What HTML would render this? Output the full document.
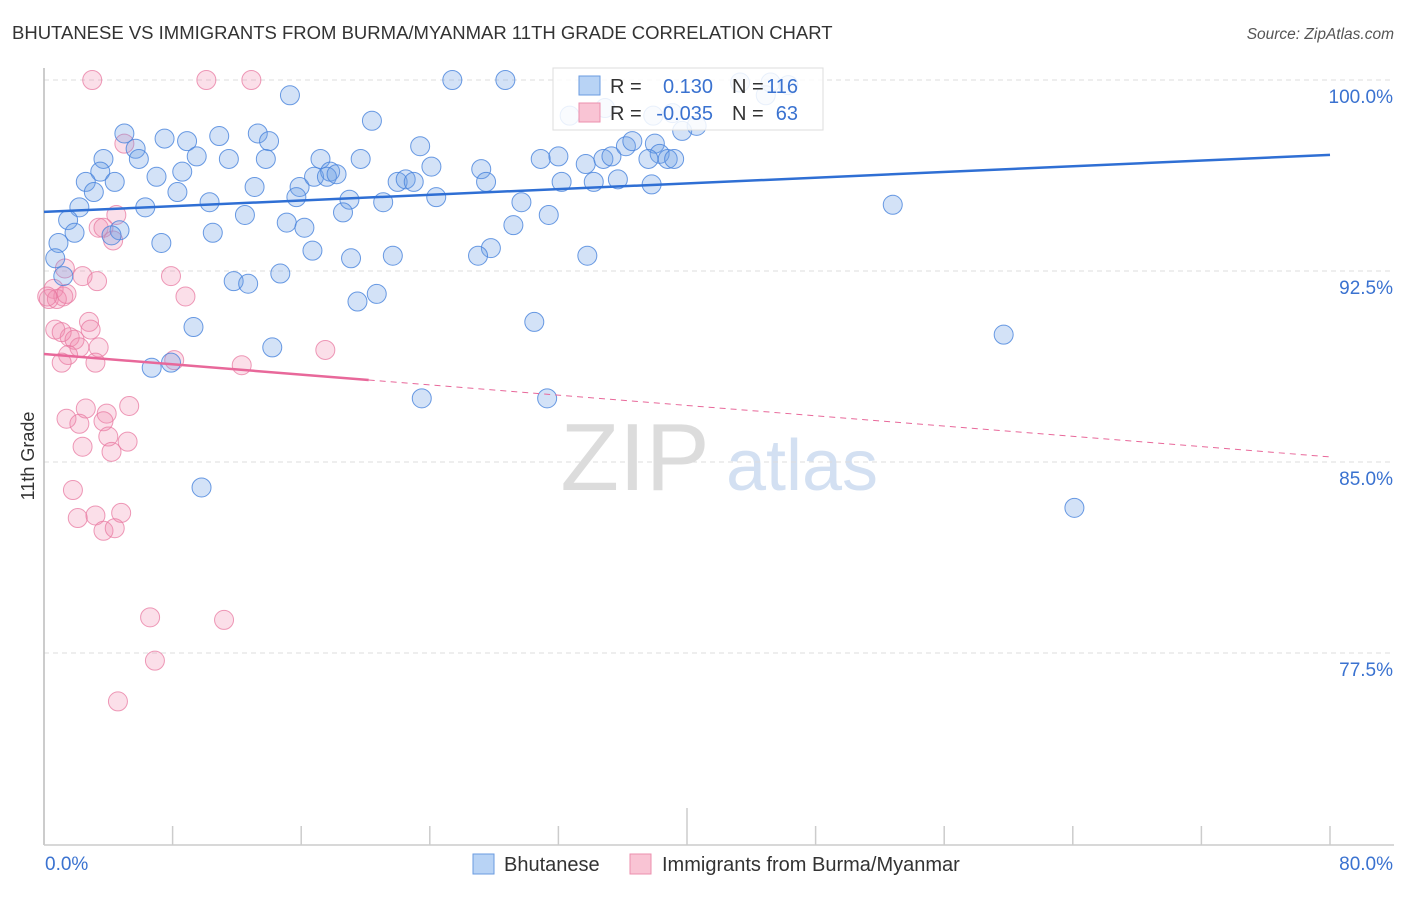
<!DOCTYPE html>
<html><head><meta charset="utf-8">
<style>
body{margin:0;background:#fff;font-family:"Liberation Sans",sans-serif;}
svg text{font-family:"Liberation Sans",sans-serif;}
</style></head>
<body>
<svg id="chart" width="1406" height="892" viewBox="0 0 1406 892">
<text x="12" y="39" font-size="18.5" fill="#333">BHUTANESE VS IMMIGRANTS FROM BURMA/MYANMAR 11TH GRADE CORRELATION CHART</text>
<text x="1394" y="39" font-size="15.5" fill="#555" font-style="italic" text-anchor="end">Source: ZipAtlas.com</text>
<text x="34" y="456" font-size="18" fill="#333" text-anchor="middle" transform="rotate(-90 34 456)">11th Grade</text>
<g>
<text x="635" y="490" font-size="96" fill="#d4d4d4" font-family="Liberation Serif" text-anchor="middle" opacity="0.8">ZIP</text>
<text x="802" y="490" font-size="72" fill="#c9d9ef" text-anchor="middle" opacity="0.8">atlas</text>
</g>
<g id="grid"></g>
<g id="axes"></g>
<g id="points"></g>
<g id="trends"></g>
<g>
<rect x="553" y="68" width="270" height="62" fill="#fff" fill-opacity="0.85" stroke="#ddd"/>
<rect x="579" y="76" width="21" height="19" fill="#b8d3f5" stroke="#6a9be0"/>
<rect x="579" y="103" width="21" height="19" fill="#f9c4d4" stroke="#ec8fae"/>
<text x="610" y="93" font-size="20" fill="#333">R =</text>
<text x="713" y="93" font-size="20" fill="#3a72d0" text-anchor="end">0.130</text>
<text x="732" y="93" font-size="20" fill="#333">N =</text>
<text x="798" y="93" font-size="20" fill="#3a72d0" text-anchor="end">116</text>
<text x="610" y="120" font-size="20" fill="#333">R =</text>
<text x="713" y="120" font-size="20" fill="#3a72d0" text-anchor="end">-0.035</text>
<text x="732" y="120" font-size="20" fill="#333">N =</text>
<text x="798" y="120" font-size="20" fill="#3a72d0" text-anchor="end">63</text>
</g>
<g>
<rect x="473" y="854" width="21" height="20" fill="#b8d3f5" stroke="#6a9be0"/>
<text x="504" y="871" font-size="20" fill="#333">Bhutanese</text>
<rect x="630" y="854" width="21" height="20" fill="#f9c4d4" stroke="#ec8fae"/>
<text x="662" y="871" font-size="20" fill="#333">Immigrants from Burma/Myanmar</text>
</g>
</svg>
<script>
const yTicks=[100,92.5,85,77.5];
const yTickLabels=["100.0%","92.5%","85.0%","77.5%"];
const xTickLabels=["0.0%","80.0%"];
const blueX=[25.4,28.7,43.3,45.2,46.3,44.9,39.1,15.3,20.4,5.0,7.5,10.9,13.3,14.0,8.9,5.7,3.7,9.5,11.5,13.8,17.2,19.7,23.4,5.9,3.5,8.6,7.0,2.6,4.4,13.1,15.9,16.8,17.8,17.6,22.0,22.5,23.0,24.1,27.2,27.5,30.9,32.0,33.7,34.8,35.3,36.2,36.6,38.0,38.3,38.8,39.2,37.6,32.2,34.2,35.7,37.8,39.7,40.6,37.9,32.7,34.9,3.1,8.3,6.3,10.3,15.7,18.2,19.0,21.1,24.4,29.7,2.2,1.5,12.5,15.1,16.2,18.6,29.2,31.4,1.9,4.7,4.2,10.5,7.3,0.9,16.7,27.8,19.1,21.7,27.0,33.8,14.7,11.8,12.7,0.7,1.2,20.7,19.5,9.3,30.5,14.2,6.7,7.9,23.5,31.3,52.8,59.7,64.1,9.8];
const blueY=[100,100,99.9,99.9,99.8,99.4,98.7,99.4,98.4,97.9,97.7,97.8,97.9,97.6,97.6,97.3,96.9,97.0,96.9,96.9,96.9,96.9,97.4,96.9,96.4,96.4,96.2,96.0,96.0,95.8,95.8,96.2,96.4,96.2,96.0,96.1,96.0,96.6,96.5,96.0,96.9,97.0,96.7,96.9,97.0,97.4,97.6,97.5,97.1,96.9,96.9,96.9,96.0,96.0,96.1,95.9,98.0,98.2,98.6,98.6,98.9,95.6,95.6,95.0,95.2,95.4,96.3,95.3,95.2,95.4,95.2,95.0,94.5,94.7,94.4,94.2,94.8,94.3,94.7,94.0,94.1,93.9,94.0,93.6,93.6,93.3,93.4,93.0,93.1,93.1,93.1,92.4,92.1,92.0,93.0,92.3,91.6,91.3,90.3,90.5,89.5,88.7,88.9,87.5,87.5,95.1,90.0,83.2,84.0];
const pinkX=[3.0,10.1,12.9,5.0,4.5,3.4,3.7,4.3,7.9,8.8,1.3,2.4,3.3,0.6,1.2,0.3,0.8,1.4,0.2,0.7,1.6,1.1,2.8,2.9,1.9,2.2,3.4,1.5,1.1,3.2,8.1,12.3,17.5,5.3,2.6,3.9,1.4,2.2,3.7,4.0,5.2,2.4,4.2,1.8,2.1,3.2,4.8,3.7,4.4,6.6,11.2,6.9,4.6];
const pinkY=[100,100,100,97.5,94.7,94.2,94.2,93.7,92.3,91.5,92.6,92.3,92.1,91.8,91.5,91.4,91.4,91.6,91.5,90.2,89.9,90.1,90.5,90.2,89.8,89.5,89.5,89.2,88.9,88.9,89.0,88.8,89.4,87.2,87.1,86.9,86.7,86.5,86.6,86.0,85.8,85.6,85.4,83.9,82.8,82.9,83.0,82.3,82.4,78.9,78.8,77.2,75.6];
const blueTrend=[94.82,97.06];
const pinkTrend=[89.24,85.2];
const pinkSolidEnd=20.2;

const NS="http://www.w3.org/2000/svg";
const X0=44,X1=1330,Y100=80,PXPER=191/7.5;
function xs(v){return X0+(v/80)*(X1-X0);}
function ys(v){return Y100+(100-v)*PXPER;}
function mk(tag,attrs,parent){const e=document.createElementNS(NS,tag);for(const k in attrs)e.setAttribute(k,attrs[k]);parent.appendChild(e);return e;}
const grid=document.getElementById('grid'),axes=document.getElementById('axes'),pts=document.getElementById('points'),tr=document.getElementById('trends');
yTicks.forEach((t,i)=>{
 const l=mk('line',{x1:X0,x2:1394,y1:ys(t),y2:ys(t),stroke:'#ddd','stroke-dasharray':'5,4'},grid);
 
 
 const tx=mk('text',{x:1393,y:ys(t)+23,'font-size':19,fill:'#3a72d0','text-anchor':'end'},axes);
 tx.textContent=yTickLabels[i];
 
 
});
const la=mk('line',{x1:X0,x2:X0,y1:68,y2:845,stroke:'#bbb','stroke-width':1.5},axes);


const ba=mk('line',{x1:X0,x2:1394,y1:845,y2:845,stroke:'#ccc','stroke-width':1.5},axes);


for(let i=1;i<=10;i++){
 const v=i*8;
 const t=mk('line',{x1:xs(v),x2:xs(v),y1:(i==5?808:826),y2:845,stroke:'#ccc','stroke-width':1.5},axes);
 
 
}
const xl0=mk('text',{x:45,y:870,'font-size':19,fill:'#3a72d0'},axes);xl0.textContent=xTickLabels[0];


const xl1=mk('text',{x:1393,y:870,'font-size':19,fill:'#3a72d0','text-anchor':'end'},axes);xl1.textContent=xTickLabels[1];


pinkX.forEach((x,i)=>{
 const c=mk('circle',{cx:xs(x),cy:ys(pinkY[i]),r:9.5,fill:'rgba(242,140,175,0.28)',stroke:'rgba(232,120,160,0.75)','stroke-width':1},pts);
 
 
});
blueX.forEach((x,i)=>{
 const c=mk('circle',{cx:xs(x),cy:ys(blueY[i]),r:9.5,fill:'rgba(110,160,230,0.3)',stroke:'rgba(70,130,220,0.8)','stroke-width':1},pts);
 
 
});
const bt=mk('line',{x1:xs(0),y1:ys(blueTrend[0]),x2:xs(80),y2:ys(blueTrend[1]),stroke:'#2f6fd4','stroke-width':2.5},tr);


const pAt=v=>pinkTrend[0]+(pinkTrend[1]-pinkTrend[0])*v/80;
const ps=mk('line',{x1:xs(0),y1:ys(pinkTrend[0]),x2:xs(pinkSolidEnd),y2:ys(pAt(pinkSolidEnd)),stroke:'#e8689a','stroke-width':2.5},tr);


const pd=mk('line',{x1:xs(pinkSolidEnd),y1:ys(pAt(pinkSolidEnd)),x2:xs(80),y2:ys(pinkTrend[1]),stroke:'#e8689a','stroke-width':1,'stroke-dasharray':'6,5'},tr);


</script>
</body></html>
